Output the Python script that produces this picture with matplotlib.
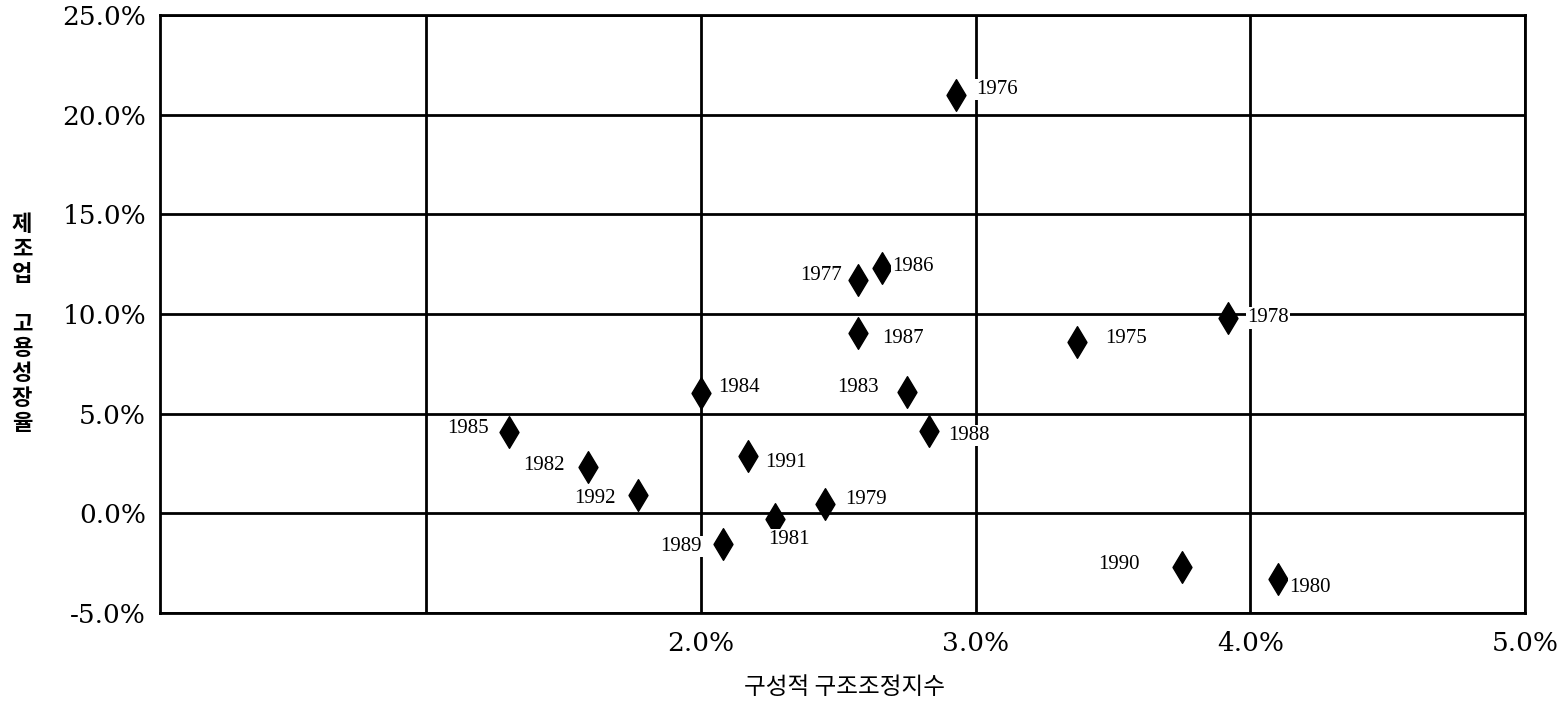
import matplotlib
matplotlib.use('Agg')
import matplotlib.pyplot as plt

# 연도별 구성적 구조조정지수(%) 와 제조업 고용성장율(%)
years = ['1975', '1976', '1977', '1978', '1979', '1980', '1981', '1982', '1983',
         '1984', '1985', '1986', '1987', '1988', '1989', '1990', '1991', '1992']
adj_index = [3.37, 2.93, 2.57, 3.92, 2.45, 4.10, 2.27, 1.59, 2.75,
             2.00, 1.30, 2.66, 2.57, 2.83, 2.08, 3.75, 2.17, 1.77]
emp_growth = [8.6, 21.0, 11.7, 9.8, 0.45, -3.3, -0.3, 2.3, 6.1,
              6.05, 4.1, 12.3, 9.05, 4.15, -1.55, -2.7, 2.9, 0.9]

x_ticks = [1, 2, 3, 4, 5]
x_ticklabels = ['', '2.0%', '3.0%', '4.0%', '5.0%']
y_ticks = [-5, 0, 5, 10, 15, 20, 25]
y_ticklabels = ['-5.0%', '0.0%', '5.0%', '10.0%', '15.0%', '20.0%', '25.0%']

# 라벨 위치 (픽셀 오프셋, 정렬)
label_pos = {
    '1975': (28, 3, 'left'), '1976': (20, 5, 'left'), '1977': (-16, 5, 'right'),
    '1978': (19, 0, 'left'), '1979': (21, 5, 'left'), '1980': (11, -8, 'left'),
    '1981': (14, -20, 'center'), '1982': (-24, 2, 'right'), '1983': (-28, 4, 'right'),
    '1984': (17, 5, 'left'), '1985': (-20, 3, 'right'), '1986': (10, 2, 'left'),
    '1987': (25, -6, 'left'), '1988': (19, -5, 'left'), '1989': (-21, -2, 'right'),
    '1990': (-42, 3, 'right'), '1991': (17, -7, 'left'), '1992': (-22, -3, 'right'),
}

fig = plt.figure(figsize=(15.6, 7.15), dpi=100)
ax = fig.add_axes([160 / 1560, 1 - 613 / 715, 1365 / 1560, 598 / 715])

ax.scatter(adj_index, emp_growth, marker='d', s=260, c='black', zorder=3)

for yr, x, y in zip(years, adj_index, emp_growth):
    dx, dy, ha = label_pos[yr]
    ax.annotate(yr, (x, y), xytext=(dx, dy), textcoords='offset pixels',
                ha=ha, va='center', fontsize=15, family='Liberation Serif',
                bbox=dict(boxstyle='square,pad=0.05', fc='white', ec='none'), zorder=4)

ax.set_xlim(0.03, 5)
ax.set_ylim(-5, 25)
ax.set_xticks(x_ticks)
ax.set_xticklabels(x_ticklabels)
ax.set_yticks(y_ticks)
ax.set_yticklabels(y_ticklabels)
ax.tick_params(length=0, labelsize=19)
ax.tick_params(axis='x', pad=13)
ax.tick_params(axis='y', pad=10)
for lab in ax.get_xticklabels() + ax.get_yticklabels():
    lab.set_family('DejaVu Serif')

ax.grid(True, color='black', linewidth=2)
for sp in ax.spines.values():
    sp.set_linewidth(2)

fig.text(845 / 1560, 1 - 688 / 715, '구성적 구조조정지수', ha='center', va='center',
         fontsize=17, family=['Noto Sans CJK KR', 'DejaVu Sans'])
fig.text(22 / 1560, 1 - 324 / 715, '\n'.join('제조업 고용성장율'), ha='center', va='center',
         fontsize=16, fontweight='bold', linespacing=1.1,
         family=['Noto Sans CJK KR', 'DejaVu Sans'])

plt.savefig('out.png', dpi=100)
